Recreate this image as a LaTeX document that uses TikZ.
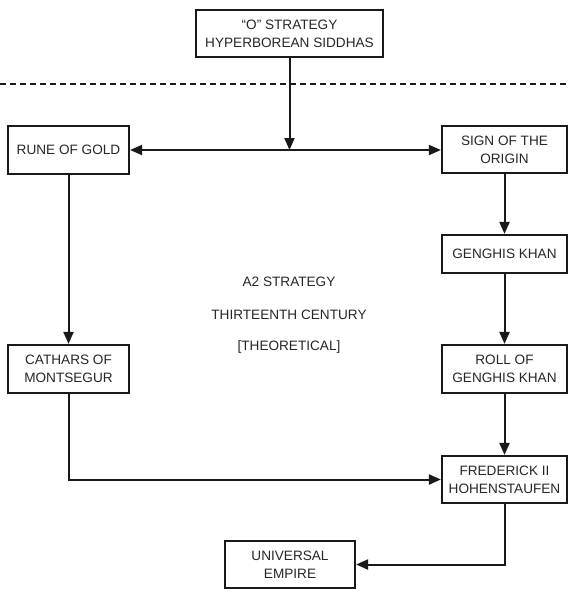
\documentclass[tikz,border=0pt]{standalone}
\usepackage{fontspec}
\setmainfont{Liberation Sans}
\usetikzlibrary{arrows.meta}

\begin{document}
\begin{tikzpicture}[
  x=1pt, y=-1pt,
  box/.style={draw=black!90, line width=2.2pt, align=center, inner sep=0pt,
              text=black!85, font=\fontsize{13.6}{17.7}\selectfont},
  link/.style={draw=black!90, line width=2pt, -{Triangle[length=12pt,width=10pt]}},
  note/.style={text=black!85, font=\fontsize{13.6}{15}\selectfont},
]
  \useasboundingbox (0,0) rectangle (570,592);

  % Top of the scheme
  \node[box, minimum width=187pt, minimum height=47pt] (ostrat) at (289.5,33.5)
    {``O'' STRATEGY\\HYPERBOREAN SIDDHAS};
  \draw[black!90, line width=2.2pt, dash pattern=on 6pt off 4pt] (0,84) -- (570,84);

  % Left column
  \node[box, minimum width=121pt, minimum height=48pt] (rune)    at (68.5,150) {RUNE OF GOLD};
  \node[box, minimum width=121pt, minimum height=48pt] (cathars) at (68.5,369) {CATHARS OF\\MONTSEGUR};

  % Right column
  \node[box, minimum width=125pt, minimum height=47pt] (sign)    at (504.5,149.5) {SIGN OF THE\\ORIGIN};
  \node[box, minimum width=125pt, minimum height=38pt] (genghis) at (504.5,254) {GENGHIS KHAN};
  \node[box, minimum width=125pt, minimum height=48pt] (roll)    at (504.5,369) {ROLL OF\\GENGHIS KHAN};
  \node[box, minimum width=125pt, minimum height=47pt] (fred)    at (504.5,479.5) {FREDERICK II\\HOHENSTAUFEN};

  % Bottom
  \node[box, minimum width=130pt, minimum height=47pt] (empire)  at (290,564.5) {UNIVERSAL\\EMPIRE};

  % Middle notes
  \node[note] (anote) at (289,282) {A2 STRATEGY};
  \node[note] (cnote) at (289,315) {THIRTEENTH CENTURY};
  \node[note] (tnote) at (289,347) {[THEORETICAL]};

  % Connectors
  \coordinate (split) at (ostrat.south |- rune.east);
  \draw[link] (ostrat.south) -- (split);
  \draw[link, {Triangle[length=12pt,width=10pt]}-{Triangle[length=12pt,width=10pt]}] (rune.east) -- (sign.west |- rune.east);
  \draw[link] (sign) -- (genghis);
  \draw[link] (genghis) -- (roll);
  \draw[link] (roll) -- (fred);
  \draw[link] (rune) -- (cathars);
  \draw[link] (cathars.south) |- (fred.west);
  \draw[link] (fred.south) |- (empire.east);

\end{tikzpicture}
\end{document}
